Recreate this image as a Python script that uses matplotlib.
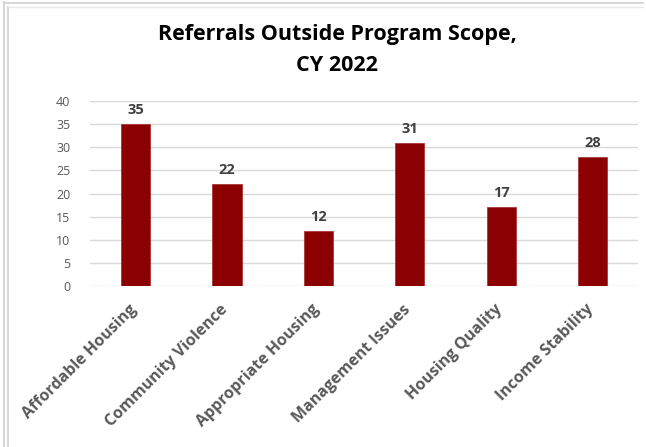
import matplotlib.pyplot as plt
import matplotlib.transforms as mtransforms
from matplotlib.lines import Line2D

categories = ['Affordable Housing', 'Community Violence', 'Appropriate Housing',
              'Management Issues', 'Housing Quality', 'Income Stability']
values = [35, 22, 12, 31, 17, 28]
yticks = [0, 5, 10, 15, 20, 25, 30, 35, 40]

plt.rcParams['font.family'] = ['Open Sans', 'DejaVu Sans']

fig = plt.figure(figsize=(6.46, 4.47), dpi=100)
ax = fig.add_axes([0.139, 0.36, 0.849, 0.414])

x = range(len(categories))
ax.bar(x, values, width=0.32, color='#8B0000', edgecolor='#A52A2A', linewidth=0.5, zorder=3)
for i, v in zip(x, values):
    ax.text(i, v + 1.5, str(v), ha='center', va='bottom', fontsize=10.5,
            fontweight='bold', color='#404040')

ax.set_ylim(0, 40)
ax.set_xlim(-0.5, len(categories) - 0.5)
ax.set_yticks(yticks)
ax.yaxis.grid(True, color='#D9D9D9', linewidth=1, zorder=0)
ax.set_xticks(list(x))
ax.set_xticklabels(categories, rotation=45, ha='right', rotation_mode='anchor',
                   fontsize=11.5, fontweight='bold', color='#595959')
ax.tick_params(axis='y', labelsize=9, labelcolor='#595959', length=0, pad=14)
ax.tick_params(axis='x', length=0, pad=6)
# nudge rotated labels down-left a little
offset = mtransforms.ScaledTranslation(-0.07, -0.07, fig.dpi_scale_trans)
for lab in ax.get_xticklabels():
    lab.set_transform(lab.get_transform() + offset)
for s in ax.spines.values():
    s.set_visible(False)

fig.text(0.522, 0.888, 'Referrals Outside Program Scope,\nCY 2022', ha='center', va='center',
         fontsize=15.5, fontweight='bold', color='black', linespacing=1.62)

# chart frame
border = '#D0D0D0'
fig.add_artist(Line2D([0.006, 0.006], [0, 0.995], transform=fig.transFigure, color=border, lw=1.2))
fig.add_artist(Line2D([0.013, 0.013], [0, 0.985], transform=fig.transFigure, color=border, lw=1.2))
fig.add_artist(Line2D([0.006, 0.995], [0.993, 0.993], transform=fig.transFigure, color=border, lw=1.2))
fig.add_artist(Line2D([0.013, 0.995], [0.985, 0.985], transform=fig.transFigure, color='#E8E8E8', lw=1))

fig.savefig('out.png', dpi=100)
